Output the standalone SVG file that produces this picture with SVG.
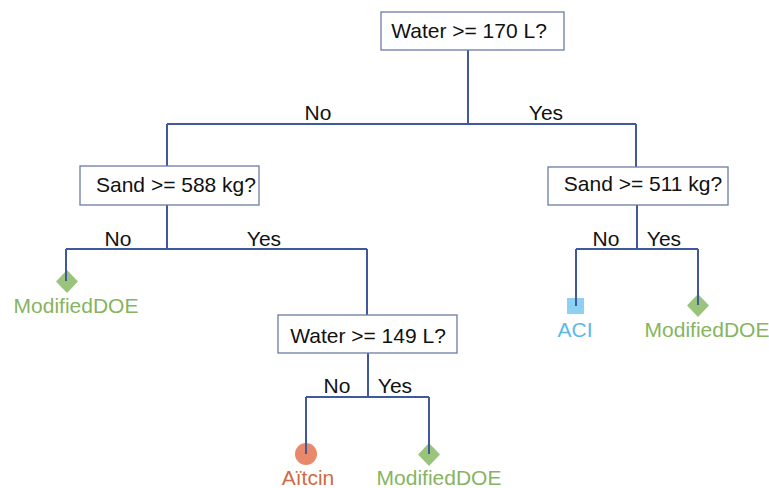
<svg xmlns="http://www.w3.org/2000/svg" width="769" height="488" viewBox="0 0 769 488">
<style>
.box{fill:#fff;stroke:#6b7ba6;stroke-width:1.3}
.t{font-family:"Liberation Sans",Arial,sans-serif;font-size:21px;fill:#111;text-anchor:middle}
.lbl{font-family:"Liberation Sans",Arial,sans-serif;font-size:21px;fill:#111;text-anchor:middle}
.edge{fill:none;stroke:#40599c;stroke-width:2}
.green{fill:#86b45f}
.dia{fill:#9ac47c}
</style>
<rect width="769" height="488" fill="#fff"/>
<g id="leaves-shapes">
<g id="leaf-mdoe-1-shape"><polygon class="dia" points="67,270 78,281.5 67,293 56,281.5"/></g>
<g id="leaf-aci-shape"><rect x="567" y="298" width="17" height="16" fill="#8ed0f2"/></g>
<g id="leaf-mdoe-2-shape"><polygon class="dia" points="698,294 709,305.5 698,317 687,305.5"/></g>
<g id="leaf-aitcin-shape"><circle cx="306" cy="454" r="11" fill="#e8896b"/></g>
<g id="leaf-mdoe-3-shape"><polygon class="dia" points="429,443 440,454.5 429,466 418,454.5"/></g>
</g>
<g id="connectors">
<path class="edge" d="M468,50 V124 M167,124 H636 M167,124 V166 M636,124 V167"/>
<path class="edge" d="M167,205 V249 M66,249 H367 M66,249 V281 M367,249 V315"/>
<path class="edge" d="M637,205 V249 M576,249 H698 M576,249 V306 M698,249 V305"/>
<path class="edge" d="M368,353 V397 M306,397 H429 M306,397 V454 M429,397 V454"/>
<text class="lbl" x="318" y="120">No</text>
<text class="lbl" x="546" y="120">Yes</text>
<text class="lbl" x="118" y="246">No</text>
<text class="lbl" x="264" y="246">Yes</text>
<text class="lbl" x="606" y="246">No</text>
<text class="lbl" x="664" y="246">Yes</text>
<text class="lbl" x="337" y="393">No</text>
<text class="lbl" x="395" y="393">Yes</text>
</g>
<g id="root">
<rect class="box" x="381" y="12" width="183" height="38"/>
<text class="t" x="469" y="38">Water &gt;= 170 L?</text>
</g>
<g id="sand588">
<rect class="box" x="80" y="166" width="179" height="39"/>
<text class="t" x="176" y="192">Sand &gt;= 588 kg?</text>
</g>
<g id="sand511">
<rect class="box" x="548" y="167" width="180" height="38"/>
<text class="t" x="643" y="191">Sand &gt;= 511 kg?</text>
</g>
<g id="water149">
<rect class="box" x="278" y="315" width="179" height="38"/>
<text class="t" x="368" y="343">Water &gt;= 149 L?</text>
</g>
<g id="leaf-mdoe-1"><text class="t green" x="76" y="313">ModifiedDOE</text></g>
<g id="leaf-aci"><text class="t" x="575" y="337" style="fill:#5cb9e6">ACI</text></g>
<g id="leaf-mdoe-2"><text class="t green" x="707" y="337">ModifiedDOE</text></g>
<g id="leaf-aitcin"><text class="t" x="308" y="485" style="fill:#cf6a42">Aïtcin</text></g>
<g id="leaf-mdoe-3"><text class="t green" x="439" y="485">ModifiedDOE</text></g>
</svg>
